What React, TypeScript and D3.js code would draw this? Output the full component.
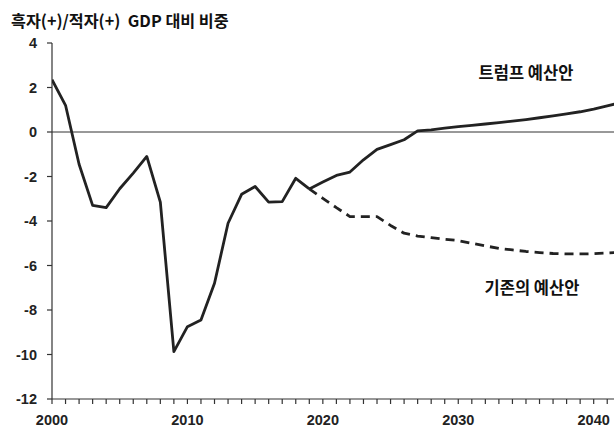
import React from "react";
import * as d3 from "d3";

// 흑자/적자 GDP 대비 비중 (%)
const histYears = d3.range(2000, 2020);
const histValues = [
  2.35, 1.2, -1.45, -3.3, -3.4, -2.55, -1.85, -1.1, -3.15, -9.87,
  -8.75, -8.45, -6.8, -4.1, -2.8, -2.45, -3.15, -3.13, -2.08, -2.56,
];
const trumpYears = d3.range(2019, 2043);
const trumpValues = [
  -2.56, -2.25, -1.95, -1.8, -1.25, -0.78, -0.57, -0.35, 0.05, 0.1,
  0.17, 0.24, 0.3, 0.36, 0.42, 0.49, 0.56, 0.64, 0.72, 0.81,
  0.91, 1.03, 1.17, 1.32,
];
const baseYears = d3.range(2019, 2043);
const baseValues = [
  -2.56, -2.98, -3.4, -3.8, -3.8, -3.8, -4.2, -4.55, -4.68, -4.75,
  -4.82, -4.88, -5.0, -5.12, -5.23, -5.3, -5.37, -5.42, -5.46, -5.48,
  -5.48, -5.47, -5.44, -5.41,
];
const yTicks = [4, 2, 0, -2, -4, -6, -8, -10, -12];
const xLabels = [2000, 2010, 2020, 2030, 2040];
const yearTicks = d3.range(2000, 2042);
const title = "흑자(+)/적자(+)  GDP 대비 비중";
const seriesLabels = ["트럼프 예산안", "기존의 예산안"];

const W = 614;
const H = 428;
const ink = "#222";
const numFont = "'Liberation Sans Narrow', 'Arial Narrow', 'Liberation Sans', Arial, sans-serif";
const krFont = "'Noto Sans CJK KR', 'Noto Sans', sans-serif";

export default function App() {
  const x = d3.scaleLinear().domain([2000, 2041.5]).range([52, W]);
  const y = d3.scaleLinear().domain([-12, 4]).range([399, 43]);
  const line = d3
    .line<[number, number]>()
    .x((d) => x(d[0]))
    .y((d) => y(d[1]));

  const hist = line(histYears.map((yr, i) => [yr, histValues[i]]));
  const trump = line(trumpYears.map((yr, i) => [yr, trumpValues[i]]));
  const base = line(baseYears.map((yr, i) => [yr, baseValues[i]]));

  return (
    <div style={{ position: "absolute", left: 0, top: 0 }}>
      <svg width={W} height={H} style={{ display: "block", background: "#fff" }}>
        <defs>
          <clipPath id="plot">
            <rect x={x(2000)} y={0} width={W - x(2000)} height={y(-12)} />
          </clipPath>
        </defs>
        <text
          x={11}
          y={27}
          fontFamily={krFont}
          fontWeight="bold"
          fontSize={16.2}
          fill="#111"
          style={{ whiteSpace: "pre" }}
        >
          {title}
        </text>

        {/* y axis */}
        <line x1={x(2000)} x2={x(2000)} y1={y(4)} y2={y(-12)} stroke="#333" strokeWidth={1.2} />
        {yTicks.map((t) => (
          <g key={t}>
            <line x1={x(2000) - 5} x2={x(2000)} y1={y(t)} y2={y(t)} stroke="#333" strokeWidth={1.2} />
            <text
              x={37}
              y={y(t)}
              dy="0.36em"
              textAnchor="end"
              fontFamily={numFont}
              fontWeight="bold"
              fontSize={14.5}
              fill="#222"
            >
              {t}
            </text>
          </g>
        ))}

        {/* x axis */}
        <line x1={x(2000)} x2={W} y1={y(-12)} y2={y(-12)} stroke="#333" strokeWidth={1.2} />
        {yearTicks.map((t) => (
          <line key={t} x1={x(t)} x2={x(t)} y1={y(-12)} y2={y(-12) + 5} stroke="#333" strokeWidth={1.2} />
        ))}
        {xLabels.map((t) => (
          <text
            key={t}
            x={x(t)}
            y={425}
            textAnchor="middle"
            fontFamily={numFont}
            fontWeight="bold"
            fontSize={14.5}
            fill="#222"
          >
            {t}
          </text>
        ))}

        {/* zero line */}
        <line x1={x(2000)} x2={W} y1={y(0)} y2={y(0)} stroke="#333" strokeWidth={1} />

        <g clipPath="url(#plot)" fill="none" stroke={ink} strokeWidth={2.8} strokeLinejoin="round">
          <path d={hist ?? ""} />
          <path d={trump ?? ""} />
          <path d={base ?? ""} strokeDasharray="9 6" />
        </g>

        <text x={526} y={73} dy="0.35em" textAnchor="middle" fontFamily={krFont} fontWeight="bold" fontSize={16.5} fill="#111">
          {seriesLabels[0]}
        </text>
        <text x={532} y={288} dy="0.35em" textAnchor="middle" fontFamily={krFont} fontWeight="bold" fontSize={16.5} fill="#111">
          {seriesLabels[1]}
        </text>
      </svg>
    </div>
  );
}
